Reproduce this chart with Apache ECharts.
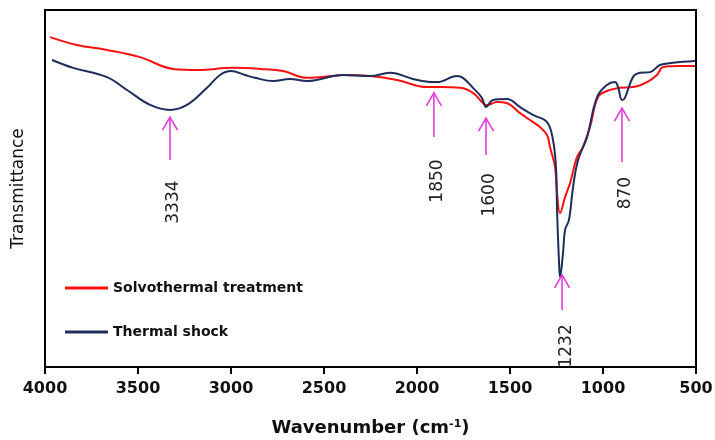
<!DOCTYPE html>
<html>
<head>
<meta charset="utf-8">
<script src="https://cdn.jsdelivr.net/npm/echarts@6/dist/echarts.min.js"></script>
<style>html,body{margin:0;padding:0;background:#fff}#c{width:715px;height:440px}</style>
</head>
<body>
<div id="c"></div>
<script>
// Solvothermal treatment: wavenumber (cm-1), transmittance (a.u.)
const solvoWn = [3973,3828,3667,3489,3312,3183,2989,2844,2720,2591,2452,2398,2253,2108,1946,1876,1769,1699,1645,1624,1570,1516,1446,1376,1339,1301,1285,1258,1247,1231,1204,1177,1140,1108,1070,1027,979,909,839,763,710,677,586,505];
const solvoT  = [92.4,90.2,88.8,86.8,83.5,83.2,83.8,83.5,82.9,81.0,81.5,81.8,81.5,80.4,78.4,78.4,78.2,76.8,73.9,73.4,74.2,73.9,71.1,68.6,67.2,65.0,61.6,56.0,48.7,43.1,47.6,51.5,58.8,61.6,67.2,75.6,77.3,78.2,78.4,79.8,81.8,84.0,84.3,84.3];
// Thermal shock
const shockWn = [3962,3849,3667,3559,3435,3328,3237,3129,3059,3000,2925,2871,2774,2683,2591,2398,2253,2145,2022,1914,1892,1785,1753,1699,1651,1629,1591,1516,1446,1376,1301,1269,1253,1247,1237,1231,1215,1204,1183,1161,1134,1086,1032,979,936,919,898,882,839,801,747,694,624,505];
const shockT  = [86.0,83.8,81.2,77.6,73.4,72.0,73.4,78.2,81.8,82.9,81.8,81.0,80.1,80.7,80.1,81.8,81.5,82.4,80.7,79.8,79.8,81.5,81.0,78.2,75.4,72.8,74.8,75.1,72.8,70.6,68.6,63.6,56.0,44.0,30.0,25.2,31.9,38.4,41.2,50.4,58.0,64.4,75.6,79.0,79.8,78.4,74.8,75.4,81.2,82.4,82.6,84.6,85.2,85.7];
// Peak annotations
const peakLabels = ['3334','1850','1600','1232','870'];
const peakWn     = [3328,1909,1629,1220,898];
const arrowTip   = [70.0,76.8,69.7,25.8,72.5];
const arrowTail  = [58.0,64.4,59.4,16.0,57.4];
const labelT     = [46.2,52.1,48.2,5.9,48.7];
const xTicks = [4000,3500,3000,2500,2000,1500,1000,500];

const zip = (a,b)=>a.map((v,i)=>[v,b[i]]);
const annData = peakLabels.map((l,i)=>[peakWn[i],arrowTip[i],arrowTail[i],labelT[i],l]);
const MAG = '#e23ddc';

const chart = echarts.init(document.getElementById('c'));
chart.setOption({
  animation:false,
  grid:{left:45,right:19,top:10,bottom:73,outerBoundsMode:'none',containLabel:false,
    show:true,borderColor:'#000',borderWidth:2,backgroundColor:'transparent'},
  legend:{
    data:['Solvothermal treatment','Thermal shock'],
    orient:'vertical', left:65, top:281, padding:0, itemGap:30,
    icon:'rect', itemWidth:43, itemHeight:3,
    textStyle:{fontFamily:'DejaVu Sans',fontWeight:'bold',fontSize:14,color:'#111'}
  },
  xAxis:{
    type:'value', inverse:true, min:500, max:4000, interval:500,
    name:'Wavenumber (cm{sup|-1})', nameLocation:'middle', nameGap:52,
    nameTextStyle:{fontFamily:'DejaVu Sans',fontWeight:'bold',fontSize:18,color:'#111',
      rich:{sup:{fontFamily:'DejaVu Sans',fontWeight:'bold',fontSize:11,verticalAlign:'top',color:'#111',padding:[0,0,8,0]}}},
    axisLine:{show:true,onZero:false,lineStyle:{color:'#000',width:2}},
    axisTick:{show:true,inside:false,length:7,lineStyle:{color:'#000',width:2}},
    axisLabel:{margin:14,fontFamily:'DejaVu Sans',fontWeight:'bold',fontSize:16,color:'#111',
      formatter:v=>xTicks.includes(v)?String(v):''},
    splitLine:{show:false}
  },
  yAxis:{
    type:'value', min:0, max:100,
    name:'Transmittance', nameLocation:'middle', nameGap:18,
    nameTextStyle:{fontFamily:'DejaVu Sans',fontSize:17,color:'#111'},
    axisLine:{show:true,onZero:false,lineStyle:{color:'#000',width:2}},
    axisTick:{show:false}, axisLabel:{show:false}, splitLine:{show:false}
  },
  series:[
    {name:'Solvothermal treatment',type:'line',data:zip(solvoWn,solvoT),showSymbol:false,smooth:0.4,
      lineStyle:{color:'#ff1010',width:2},itemStyle:{color:'#ff1010'}},
    {name:'Thermal shock',type:'line',data:zip(shockWn,shockT),showSymbol:false,smooth:0.4,
      lineStyle:{color:'#1f2d5c',width:2},itemStyle:{color:'#1f2d5c'}},
    {name:'peaks',type:'custom',silent:true,data:annData,z:5,
      renderItem:function(params,api){
        const wn=api.value(0);
        const p1=api.coord([wn,api.value(1)]);
        const p2=api.coord([wn,api.value(2)]);
        const pl=api.coord([wn,api.value(3)]);
        const txt=peakLabels[params.dataIndex];
        return {type:'group',children:[
          {type:'line',shape:{x1:p1[0],y1:p1[1],x2:p2[0],y2:p2[1]},style:{stroke:MAG,lineWidth:1.6}},
          {type:'polyline',shape:{points:[[p1[0]-7.5,p1[1]+13],[p1[0],p1[1]],[p1[0]+7.5,p1[1]+13]]},style:{stroke:MAG,fill:null,lineWidth:1.6}},
          {type:'text',x:pl[0]+4,y:pl[1],rotation:Math.PI/2,
            style:{text:txt,fontFamily:'DejaVu Sans',fontSize:17,fill:'#222',align:'center',verticalAlign:'middle'}}
        ]};
      }}
  ]
});
</script>
</body>
</html>
